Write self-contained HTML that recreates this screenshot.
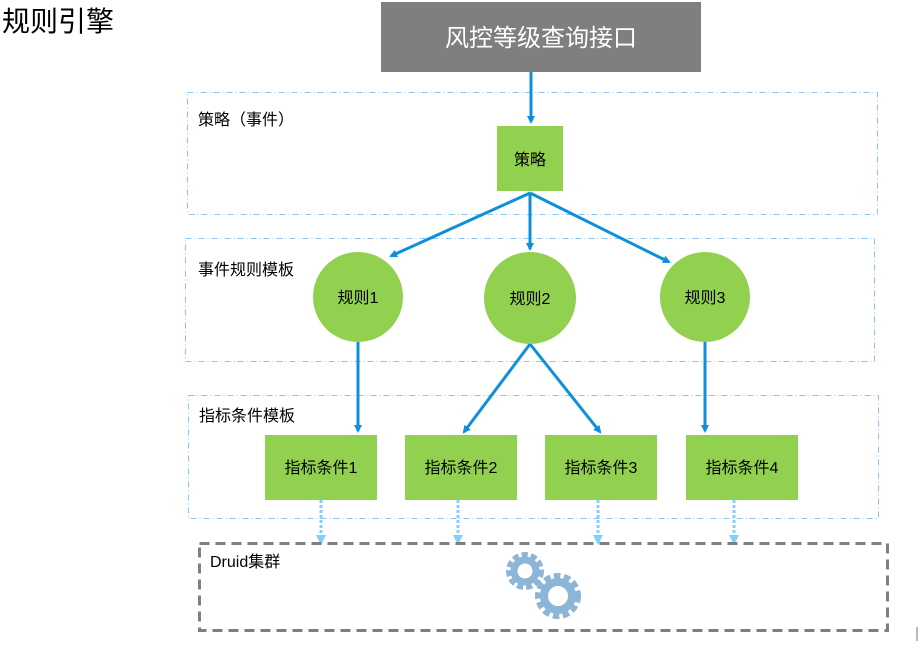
<!DOCTYPE html>
<html><head><meta charset="utf-8"><style>
html,body{margin:0;padding:0;background:#fff;width:919px;height:656px;overflow:hidden}
svg text{font-family:"Liberation Sans","Noto Sans CJK SC",sans-serif}
</style></head><body>
<svg width="919" height="656" viewBox="0 0 919 656" xmlns="http://www.w3.org/2000/svg">
<defs>
<marker id="a" markerWidth="8" markerHeight="8" refX="6" refY="4" orient="auto" markerUnits="userSpaceOnUse"><path d="M0,0 L8,4 L0,8 z" fill="#0d8fdc"/></marker>
<marker id="b" markerWidth="10" markerHeight="10" refX="8" refY="5" orient="auto" markerUnits="userSpaceOnUse"><path d="M0,0 L10,5 L0,10 z" fill="#7fd0ff"/></marker>
</defs>
<text x="2" y="31" font-size="28" fill="#000">规则引擎</text>
<rect x="381" y="2" width="320" height="70" fill="#7f7f7f"/>
<text x="541" y="46" font-size="24" fill="#fff" text-anchor="middle">风控等级查询接口</text>

<g fill="none" stroke="#8cc4ef" stroke-width="1" stroke-dasharray="6,3,1,3">
<rect x="187.5" y="92.5" width="690" height="122"/>
<rect x="185.5" y="238.5" width="689" height="123"/>
<rect x="188.5" y="395.5" width="690" height="123"/>
</g>
<g font-size="16" fill="#000">
<text x="198" y="125">策略（事件）</text>
<text x="198" y="275">事件规则模板</text>
<text x="199" y="421">指标条件模板</text>
</g>

<g stroke="#0d8fdc" stroke-width="3" marker-end="url(#a)">
<line x1="531" y1="72" x2="531" y2="122"/>
<line x1="530" y1="193" x2="391" y2="256"/>
<line x1="530" y1="193" x2="530" y2="249"/>
<line x1="530" y1="193" x2="669" y2="262"/>
<line x1="358" y1="342" x2="358" y2="431"/>
<line x1="530" y1="344" x2="464" y2="432"/>
<line x1="530" y1="344" x2="600" y2="432"/>
<line x1="705" y1="342" x2="705" y2="431"/>
</g>

<rect x="497" y="126" width="66" height="65" fill="#92d050"/>
<text x="530" y="165" font-size="16" text-anchor="middle">策略</text>

<g fill="#92d050">
<circle cx="358" cy="297" r="45"/>
<circle cx="530" cy="298" r="46"/>
<circle cx="705" cy="297" r="45"/>
<rect x="265" y="435" width="112" height="65"/>
<rect x="405" y="435" width="112" height="65"/>
<rect x="545" y="435" width="112" height="65"/>
<rect x="686" y="435" width="112" height="65"/>
</g>
<g font-size="16" text-anchor="middle" fill="#000">
<text x="358" y="303">规则1</text>
<text x="530" y="304">规则2</text>
<text x="705" y="303">规则3</text>
<text x="321" y="473">指标条件1</text>
<text x="461" y="473">指标条件2</text>
<text x="601" y="473">指标条件3</text>
<text x="742" y="473">指标条件4</text>
</g>

<g stroke="#7fd0ff" stroke-width="3" stroke-dasharray="3,2" marker-end="url(#b)">
<line x1="321" y1="500" x2="321" y2="543"/>
<line x1="458" y1="500" x2="458" y2="543"/>
<line x1="598" y1="500" x2="598" y2="543"/>
<line x1="734" y1="500" x2="734" y2="543"/>
</g>

<rect x="199.5" y="543.5" width="688" height="87" fill="none" stroke="#7f7f7f" stroke-width="3" stroke-dasharray="10,6"/>
<text x="210" y="567" font-size="16">Druid集群</text>

<g fill="none" stroke="#8db5d8">
<circle cx="525" cy="571" r="16" stroke-width="6" stroke-dasharray="6,3"/>
<circle cx="525" cy="571" r="11" stroke-width="7"/>
<circle cx="558" cy="596" r="20" stroke-width="6" stroke-dasharray="6.5,3.5"/>
<circle cx="558" cy="596" r="14" stroke-width="8"/>
</g>
<rect x="916" y="627" width="2" height="14" fill="#bbb"/>
</svg>
</body></html>
